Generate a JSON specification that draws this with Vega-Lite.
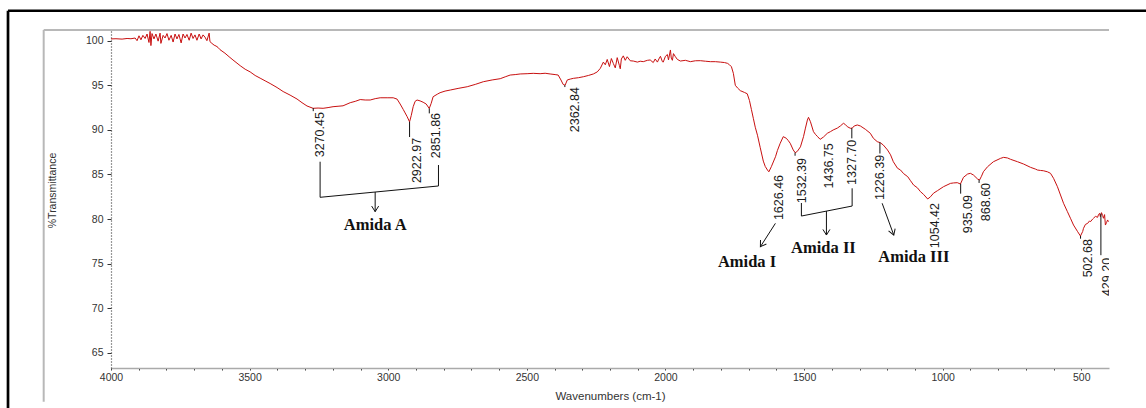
{
  "$schema": "https://vega.github.io/schema/vega-lite/v6.json",
  "width": 998,
  "height": 338,
  "autosize": "none",
  "padding": {"left": 111, "top": 30, "right": 37, "bottom": 40},
  "background": "white",
  "config": {"view": {"stroke": null}},
  "datasets": {
    "frameBlack": [
      {"wn": 4371.5, "wn2": 266.5, "t": 103.36, "t2": 103.36},
      {"wn": 4371.5, "wn2": 4371.5, "t": 103.36, "t2": 58.8}
    ],
    "frameGray": [
      {"wn": 4242.8, "wn2": 400, "t": 101.2, "t2": 101.2},
      {"wn": 4242.8, "wn2": 4242.8, "t": 101.2, "t2": 59.52}
    ],
    "spectrum": [
      {"wn": 4000, "t": 100.2}, {"wn": 3982, "t": 100.22}, {"wn": 3960, "t": 100.18}, {"wn": 3942, "t": 100.25},
      {"wn": 3928, "t": 100.22}, {"wn": 3913, "t": 100.3}, {"wn": 3906, "t": 100.0}, {"wn": 3899, "t": 100.55},
      {"wn": 3892, "t": 100.1}, {"wn": 3885, "t": 100.6}, {"wn": 3877, "t": 100.25}, {"wn": 3870, "t": 100.75},
      {"wn": 3863, "t": 99.8}, {"wn": 3859, "t": 101.05}, {"wn": 3856, "t": 99.45}, {"wn": 3852, "t": 100.8},
      {"wn": 3845, "t": 100.2}, {"wn": 3838, "t": 100.75}, {"wn": 3830, "t": 99.95}, {"wn": 3823, "t": 100.85},
      {"wn": 3820, "t": 99.7}, {"wn": 3812, "t": 100.6}, {"wn": 3805, "t": 100.3}, {"wn": 3798, "t": 100.8},
      {"wn": 3791, "t": 100.05}, {"wn": 3783, "t": 100.6}, {"wn": 3776, "t": 99.85}, {"wn": 3769, "t": 100.75},
      {"wn": 3762, "t": 100.2}, {"wn": 3755, "t": 100.7}, {"wn": 3747, "t": 99.75}, {"wn": 3740, "t": 100.75},
      {"wn": 3733, "t": 100.3}, {"wn": 3726, "t": 100.7}, {"wn": 3718, "t": 100.05}, {"wn": 3711, "t": 100.85},
      {"wn": 3704, "t": 100.25}, {"wn": 3697, "t": 100.65}, {"wn": 3690, "t": 100.05}, {"wn": 3682, "t": 100.75},
      {"wn": 3675, "t": 100.2}, {"wn": 3668, "t": 100.65}, {"wn": 3661, "t": 100.4}, {"wn": 3654, "t": 100.0},
      {"wn": 3646, "t": 100.85}, {"wn": 3643, "t": 99.9}, {"wn": 3636, "t": 99.7}, {"wn": 3628, "t": 99.5},
      {"wn": 3621, "t": 99.4}, {"wn": 3614, "t": 99.25}, {"wn": 3607, "t": 99.0}, {"wn": 3589, "t": 98.6},
      {"wn": 3574, "t": 98.2}, {"wn": 3560, "t": 97.84}, {"wn": 3534, "t": 97.2}, {"wn": 3516, "t": 96.8},
      {"wn": 3498, "t": 96.5}, {"wn": 3480, "t": 96.1}, {"wn": 3462, "t": 95.8}, {"wn": 3444, "t": 95.5},
      {"wn": 3426, "t": 95.2}, {"wn": 3401, "t": 94.75}, {"wn": 3379, "t": 94.3}, {"wn": 3354, "t": 93.9},
      {"wn": 3329, "t": 93.46}, {"wn": 3311, "t": 93.05}, {"wn": 3293, "t": 92.68}, {"wn": 3271, "t": 92.42},
      {"wn": 3253, "t": 92.45}, {"wn": 3235, "t": 92.42}, {"wn": 3217, "t": 92.5}, {"wn": 3199, "t": 92.6},
      {"wn": 3181, "t": 92.65}, {"wn": 3163, "t": 92.7}, {"wn": 3137, "t": 93.05}, {"wn": 3119, "t": 93.2},
      {"wn": 3101, "t": 93.4}, {"wn": 3083, "t": 93.35}, {"wn": 3065, "t": 93.35}, {"wn": 3047, "t": 93.5},
      {"wn": 3029, "t": 93.6}, {"wn": 3004, "t": 93.6}, {"wn": 2982, "t": 93.6}, {"wn": 2968, "t": 93.45},
      {"wn": 2957, "t": 92.9}, {"wn": 2946, "t": 92.3}, {"wn": 2939, "t": 91.9}, {"wn": 2932, "t": 91.5},
      {"wn": 2923, "t": 90.9}, {"wn": 2917, "t": 91.6}, {"wn": 2910, "t": 92.6}, {"wn": 2903, "t": 93.2},
      {"wn": 2896, "t": 93.35}, {"wn": 2885, "t": 93.25}, {"wn": 2874, "t": 93.1}, {"wn": 2863, "t": 92.9},
      {"wn": 2852, "t": 92.4}, {"wn": 2845, "t": 92.98}, {"wn": 2838, "t": 93.72}, {"wn": 2823, "t": 94.0},
      {"wn": 2813, "t": 94.17}, {"wn": 2795, "t": 94.35}, {"wn": 2776, "t": 94.47}, {"wn": 2748, "t": 94.65},
      {"wn": 2715, "t": 94.84}, {"wn": 2686, "t": 95.1}, {"wn": 2657, "t": 95.4}, {"wn": 2625, "t": 95.6},
      {"wn": 2596, "t": 95.74}, {"wn": 2578, "t": 95.95}, {"wn": 2560, "t": 96.15}, {"wn": 2542, "t": 96.2},
      {"wn": 2524, "t": 96.27}, {"wn": 2499, "t": 96.3}, {"wn": 2477, "t": 96.34}, {"wn": 2452, "t": 96.3},
      {"wn": 2434, "t": 96.35}, {"wn": 2416, "t": 96.27}, {"wn": 2398, "t": 96.2}, {"wn": 2387, "t": 96.15},
      {"wn": 2377, "t": 95.6}, {"wn": 2369, "t": 95.1}, {"wn": 2362, "t": 95.0}, {"wn": 2354, "t": 95.6},
      {"wn": 2343, "t": 95.7}, {"wn": 2332, "t": 95.78}, {"wn": 2314, "t": 95.85}, {"wn": 2296, "t": 95.96},
      {"wn": 2278, "t": 96.1}, {"wn": 2260, "t": 96.27}, {"wn": 2246, "t": 96.5}, {"wn": 2235, "t": 96.9},
      {"wn": 2224, "t": 97.6}, {"wn": 2217, "t": 97.3}, {"wn": 2210, "t": 97.9}, {"wn": 2202, "t": 97.1},
      {"wn": 2195, "t": 98.0}, {"wn": 2188, "t": 97.45}, {"wn": 2181, "t": 96.95}, {"wn": 2174, "t": 98.1},
      {"wn": 2166, "t": 97.2}, {"wn": 2163, "t": 96.85}, {"wn": 2159, "t": 97.95}, {"wn": 2152, "t": 98.3},
      {"wn": 2145, "t": 97.8}, {"wn": 2138, "t": 98.2}, {"wn": 2127, "t": 97.75}, {"wn": 2116, "t": 97.72},
      {"wn": 2101, "t": 97.6}, {"wn": 2091, "t": 97.7}, {"wn": 2080, "t": 97.65}, {"wn": 2065, "t": 97.8},
      {"wn": 2055, "t": 97.84}, {"wn": 2044, "t": 97.55}, {"wn": 2037, "t": 97.95}, {"wn": 2029, "t": 97.6},
      {"wn": 2022, "t": 98.05}, {"wn": 2018, "t": 98.25}, {"wn": 2011, "t": 97.65}, {"wn": 2008, "t": 97.6},
      {"wn": 2000, "t": 98.25}, {"wn": 1993, "t": 98.45}, {"wn": 1989, "t": 97.85}, {"wn": 1982, "t": 98.96},
      {"wn": 1979, "t": 98.05}, {"wn": 1975, "t": 97.8}, {"wn": 1971, "t": 98.55}, {"wn": 1964, "t": 98.2},
      {"wn": 1957, "t": 97.9}, {"wn": 1946, "t": 97.72}, {"wn": 1928, "t": 97.8}, {"wn": 1910, "t": 97.65},
      {"wn": 1892, "t": 97.75}, {"wn": 1874, "t": 97.76}, {"wn": 1856, "t": 97.7}, {"wn": 1838, "t": 97.65},
      {"wn": 1820, "t": 97.65}, {"wn": 1802, "t": 97.6}, {"wn": 1787, "t": 97.55}, {"wn": 1776, "t": 97.46},
      {"wn": 1769, "t": 97.3}, {"wn": 1762, "t": 97.08}, {"wn": 1755, "t": 96.34}, {"wn": 1748, "t": 95.0},
      {"wn": 1740, "t": 94.7}, {"wn": 1730, "t": 94.4}, {"wn": 1715, "t": 94.2}, {"wn": 1705, "t": 94.05},
      {"wn": 1697, "t": 93.3}, {"wn": 1690, "t": 92.3}, {"wn": 1683, "t": 91.3}, {"wn": 1676, "t": 90.3},
      {"wn": 1668, "t": 89.4}, {"wn": 1658, "t": 88.0}, {"wn": 1647, "t": 86.5}, {"wn": 1640, "t": 85.9},
      {"wn": 1632, "t": 85.5}, {"wn": 1627, "t": 85.3}, {"wn": 1618, "t": 85.87}, {"wn": 1611, "t": 86.4},
      {"wn": 1603, "t": 86.99}, {"wn": 1596, "t": 87.7}, {"wn": 1586, "t": 88.5}, {"wn": 1575, "t": 89.24},
      {"wn": 1564, "t": 89.06}, {"wn": 1557, "t": 88.8}, {"wn": 1550, "t": 88.5}, {"wn": 1539, "t": 87.75},
      {"wn": 1532, "t": 87.44}, {"wn": 1524, "t": 87.6}, {"wn": 1513, "t": 88.1}, {"wn": 1502, "t": 89.24},
      {"wn": 1495, "t": 90.2}, {"wn": 1488, "t": 91.1}, {"wn": 1484, "t": 91.41}, {"wn": 1477, "t": 90.92},
      {"wn": 1466, "t": 89.8}, {"wn": 1459, "t": 89.5}, {"wn": 1451, "t": 89.24}, {"wn": 1442, "t": 88.94},
      {"wn": 1430, "t": 89.2}, {"wn": 1416, "t": 89.62}, {"wn": 1405, "t": 89.8}, {"wn": 1395, "t": 89.99},
      {"wn": 1380, "t": 90.2}, {"wn": 1369, "t": 90.44}, {"wn": 1358, "t": 90.74}, {"wn": 1351, "t": 90.6},
      {"wn": 1344, "t": 90.36}, {"wn": 1333, "t": 90.18}, {"wn": 1326, "t": 90.2}, {"wn": 1319, "t": 90.44},
      {"wn": 1308, "t": 90.55}, {"wn": 1297, "t": 90.44}, {"wn": 1279, "t": 90.07}, {"wn": 1261, "t": 89.62},
      {"wn": 1250, "t": 89.06}, {"wn": 1236, "t": 88.68}, {"wn": 1225, "t": 88.56}, {"wn": 1214, "t": 88.3},
      {"wn": 1199, "t": 87.75}, {"wn": 1188, "t": 87.2}, {"wn": 1178, "t": 86.43}, {"wn": 1163, "t": 85.7},
      {"wn": 1152, "t": 85.5}, {"wn": 1141, "t": 85.1}, {"wn": 1126, "t": 84.75}, {"wn": 1116, "t": 84.3},
      {"wn": 1105, "t": 83.82}, {"wn": 1091, "t": 83.5}, {"wn": 1080, "t": 83.07}, {"wn": 1069, "t": 82.77},
      {"wn": 1054, "t": 82.25}, {"wn": 1044, "t": 82.5}, {"wn": 1033, "t": 82.9}, {"wn": 1019, "t": 83.18},
      {"wn": 997, "t": 83.63}, {"wn": 972, "t": 84.0}, {"wn": 961, "t": 84.05}, {"wn": 947, "t": 84.08},
      {"wn": 936, "t": 83.93}, {"wn": 925, "t": 84.68}, {"wn": 910, "t": 85.05}, {"wn": 900, "t": 85.13},
      {"wn": 889, "t": 84.94}, {"wn": 874, "t": 84.49}, {"wn": 867, "t": 84.38}, {"wn": 860, "t": 84.8},
      {"wn": 853, "t": 85.31}, {"wn": 838, "t": 85.87}, {"wn": 817, "t": 86.43}, {"wn": 791, "t": 86.81},
      {"wn": 780, "t": 86.92}, {"wn": 766, "t": 86.85}, {"wn": 755, "t": 86.7}, {"wn": 730, "t": 86.43},
      {"wn": 708, "t": 86.17}, {"wn": 683, "t": 85.8}, {"wn": 665, "t": 85.6}, {"wn": 658, "t": 85.5},
      {"wn": 647, "t": 85.45}, {"wn": 637, "t": 85.42}, {"wn": 622, "t": 85.3}, {"wn": 611, "t": 85.13},
      {"wn": 600, "t": 84.57}, {"wn": 586, "t": 83.63}, {"wn": 575, "t": 82.7}, {"wn": 564, "t": 81.77},
      {"wn": 550, "t": 80.83}, {"wn": 539, "t": 80.09}, {"wn": 528, "t": 79.33}, {"wn": 513, "t": 78.58},
      {"wn": 503, "t": 78.1}, {"wn": 495, "t": 78.6}, {"wn": 492, "t": 78.96}, {"wn": 485, "t": 79.4},
      {"wn": 477, "t": 79.52}, {"wn": 470, "t": 79.8}, {"wn": 467, "t": 79.7}, {"wn": 459, "t": 80.0},
      {"wn": 456, "t": 80.09}, {"wn": 449, "t": 80.3}, {"wn": 441, "t": 80.2}, {"wn": 438, "t": 80.5},
      {"wn": 434, "t": 80.64}, {"wn": 431, "t": 80.27}, {"wn": 427, "t": 80.72}, {"wn": 423, "t": 80.4},
      {"wn": 420, "t": 80.09}, {"wn": 416, "t": 80.5}, {"wn": 413, "t": 79.33}, {"wn": 409, "t": 79.6},
      {"wn": 405, "t": 79.9}, {"wn": 402, "t": 79.7}
    ],
    "ticks": [
      {"wn": 3270.45, "t": 92.45, "t2": 92.1},
      {"wn": 2922.97, "t": 90.9, "t2": 89.2},
      {"wn": 2851.86, "t": 92.4, "t2": 91.85},
      {"wn": 2362.84, "t": 95.0, "t2": 94.8},
      {"wn": 1532.39, "t": 87.45, "t2": 87.1},
      {"wn": 1327.70, "t": 90.2, "t2": 89.05},
      {"wn": 1226.39, "t": 88.6, "t2": 87.35},
      {"wn": 935.09, "t": 83.95, "t2": 82.85},
      {"wn": 868.60, "t": 84.4, "t2": 84.05},
      {"wn": 502.68, "t": 78.1, "t2": 77.8},
      {"wn": 429.20, "t": 80.6, "t2": 75.95}
    ],
    "segs": [
      {"wn": 3245.7, "t": 86.43, "wn2": 3245.7, "t2": 82.44},
      {"wn": 3245.7, "t": 82.44, "wn2": 2818.7, "t2": 83.71},
      {"wn": 2818.7, "t": 86.06, "wn2": 2818.7, "t2": 83.71},
      {"wn": 1509.6, "t": 81.8, "wn2": 1509.6, "t2": 80.34},
      {"wn": 1509.6, "t": 80.34, "wn2": 1326.6, "t2": 81.46},
      {"wn": 1326.6, "t": 83.45, "wn2": 1326.6, "t2": 81.46}
    ],
    "arrows": [
      {"name": "Amida A", "wn": 3047.1, "t": 83.03, "wn2": 3047.1, "t2": 80.83},
      {"name": "Amida I", "wn": 1603.4, "t": 79.52, "wn2": 1657.5, "t2": 76.9},
      {"name": "Amida II", "wn": 1419.3, "t": 80.9, "wn2": 1419.3, "t2": 78.21},
      {"name": "Amida III", "wn": 1218.3, "t": 81.77, "wn2": 1176.4, "t2": 78.21}
    ],
    "heads": [
      {"name": "Amida A", "wn": 3047.1, "t": 80.83},
      {"name": "Amida I", "wn": 1657.5, "t": 76.9},
      {"name": "Amida II", "wn": 1419.3, "t": 78.21},
      {"name": "Amida III", "wn": 1176.4, "t": 78.21}
    ],
    "peaks": [
      {"lab": "3270.45", "wn": 3270.45, "t": 92.0},
      {"lab": "2922.97", "wn": 2922.97, "t": 89.1},
      {"lab": "2851.86", "wn": 2851.86, "t": 91.9},
      {"lab": "2362.84", "wn": 2362.84, "t": 94.8},
      {"lab": "1626.46", "wn": 1626.46, "t": 84.95},
      {"lab": "1532.39", "wn": 1532.39, "t": 86.85},
      {"lab": "1436.75", "wn": 1436.75, "t": 88.5},
      {"lab": "1327.70", "wn": 1327.70, "t": 88.9},
      {"lab": "1226.39", "wn": 1226.39, "t": 87.2},
      {"lab": "1054.42", "wn": 1054.42, "t": 81.8},
      {"lab": "935.09", "wn": 935.09, "t": 82.7},
      {"lab": "868.60", "wn": 868.60, "t": 84.05},
      {"lab": "502.68", "wn": 502.68, "t": 77.75},
      {"lab": "429.20", "wn": 429.20, "t": 75.65}
    ],
    "amida": [
      {"name": "Amida A", "wn": 3047, "t": 79.33},
      {"name": "Amida I", "wn": 1705.6, "t": 75.22},
      {"name": "Amida II", "wn": 1430.2, "t": 76.72},
      {"name": "Amida III", "wn": 1104.2, "t": 75.78}
    ]
  },
  "encoding": {
    "x": {
      "field": "wn", "type": "quantitative",
      "scale": {"domain": [400, 4000], "reverse": true, "nice": false, "zero": false},
      "axis": {
        "values": [4000, 3900, 3800, 3700, 3600, 3500, 3400, 3300, 3200, 3100, 3000, 2900, 2800, 2700, 2600, 2500, 2400, 2300, 2200, 2100, 2000, 1900, 1800, 1700, 1600, 1500, 1400, 1300, 1200, 1100, 1000, 900, 800, 700, 600, 500],
        "labelExpr": "datum.value % 500 === 0 ? datum.value + '' : ''",
        "labelOverlap": false, "labelFlush": false, "grid": false,
        "tickSize": 2, "tickColor": "#333333", "domainColor": "#aaaaaa", "domainWidth": 1.5,
        "labelFont": "Liberation Sans", "labelFontSize": 10.5, "labelColor": "#333333", "labelPadding": 2,
        "title": "Wavenumbers (cm-1)", "titleFont": "Liberation Sans", "titleFontSize": 11.5,
        "titleFontWeight": "normal", "titleColor": "#333333", "titleY": 28, "titleBaseline": "middle"
      }
    },
    "y": {
      "field": "t", "type": "quantitative",
      "scale": {"domain": [63.3, 101.2], "nice": false, "zero": false},
      "axis": {
        "values": [65, 70, 75, 80, 85, 90, 95, 100],
        "grid": false, "labelFlush": false, "labelOverlap": false,
        "tickSize": 4, "tickColor": "#333333", "domainColor": "#333333", "domainDash": [1, 2], "domainWidth": 1.2,
        "labelFont": "Liberation Sans", "labelFontSize": 10.5, "labelColor": "#333333", "labelPadding": 4,
        "title": "%Transmittance", "titleFont": "Liberation Sans", "titleFontSize": 10.5,
        "titleFontWeight": "normal", "titleColor": "#333333", "titleX": -59, "titleY": 160,
        "titleBaseline": "middle", "titleAngle": 270
      }
    }
  },
  "layer": [
    {
      "data": {"name": "frameBlack"},
      "mark": {"type": "rule", "color": "#000000", "strokeWidth": 2.7},
      "encoding": {"x2": {"field": "wn2"}, "y2": {"field": "t2"}}
    },
    {
      "data": {"name": "frameGray"},
      "mark": {"type": "rule", "color": "#b8b8b8", "strokeWidth": 2},
      "encoding": {"x2": {"field": "wn2"}, "y2": {"field": "t2"}}
    },
    {
      "data": {"name": "spectrum"},
      "mark": {"type": "line", "color": "#c81010", "strokeWidth": 1, "interpolate": "linear"},
      "encoding": {}
    },
    {
      "data": {"name": "ticks"},
      "mark": {"type": "rule", "color": "#111111", "strokeWidth": 1},
      "encoding": {"y2": {"field": "t2"}}
    },
    {
      "data": {"name": "segs"},
      "mark": {"type": "rule", "color": "#111111", "strokeWidth": 1},
      "encoding": {"x2": {"field": "wn2"}, "y2": {"field": "t2"}}
    },
    {
      "data": {"name": "arrows"},
      "mark": {"type": "rule", "color": "#111111", "strokeWidth": 1},
      "encoding": {"x2": {"field": "wn2"}, "y2": {"field": "t2"}}
    },
    {
      "data": {"name": "heads"},
      "transform": [{"filter": {"field": "name", "oneOf": ["Amida A", "Amida II"]}}],
      "mark": {"type": "point", "shape": "M-1,-1.6L0,0L1,-1.6", "filled": false, "stroke": "#111111", "strokeWidth": 1, "size": 49, "opacity": 1, "angle": 0},
      "encoding": {}
    },
    {
      "data": {"name": "heads"},
      "transform": [{"filter": {"field": "name", "oneOf": ["Amida I"]}}],
      "mark": {"type": "point", "shape": "M-1,-1.6L0,0L1,-1.6", "filled": false, "stroke": "#111111", "strokeWidth": 1, "size": 49, "opacity": 1, "angle": 33},
      "encoding": {}
    },
    {
      "data": {"name": "heads"},
      "transform": [{"filter": {"field": "name", "oneOf": ["Amida III"]}}],
      "mark": {"type": "point", "shape": "M-1,-1.6L0,0L1,-1.6", "filled": false, "stroke": "#111111", "strokeWidth": 1, "size": 49, "opacity": 1, "angle": 340},
      "encoding": {}
    },
    {
      "data": {"name": "peaks"},
      "transform": [{"filter": {"field": "lab", "oneOf": ["3270.45", "2922.97", "2851.86", "1532.39", "1436.75", "1054.42", "935.09", "868.60", "502.68"]}}],
      "mark": {"type": "text", "angle": 270, "align": "right", "baseline": "middle", "dy": 7, "font": "Liberation Sans", "fontSize": 12.5, "fill": "#1a1a1a"},
      "encoding": {"text": {"field": "lab"}}
    },
    {
      "data": {"name": "peaks"},
      "transform": [{"filter": {"field": "lab", "oneOf": ["1327.70", "1226.39"]}}],
      "mark": {"type": "text", "angle": 270, "align": "right", "baseline": "middle", "dy": 0, "font": "Liberation Sans", "fontSize": 12.5, "fill": "#1a1a1a"},
      "encoding": {"text": {"field": "lab"}}
    },
    {
      "data": {"name": "peaks"},
      "transform": [{"filter": {"field": "lab", "oneOf": ["1626.46", "2362.84"]}}],
      "mark": {"type": "text", "angle": 270, "align": "right", "baseline": "middle", "dy": 10, "font": "Liberation Sans", "fontSize": 12.5, "fill": "#1a1a1a"},
      "encoding": {"text": {"field": "lab"}}
    },
    {
      "data": {"name": "peaks"},
      "transform": [{"filter": {"field": "lab", "oneOf": ["429.20"]}}],
      "mark": {"type": "text", "angle": 270, "align": "right", "baseline": "middle", "dy": 6, "clip": true, "font": "Liberation Sans", "fontSize": 12.5, "fill": "#1a1a1a"},
      "encoding": {"text": {"field": "lab"}}
    },
    {
      "data": {"name": "amida"},
      "mark": {"type": "text", "align": "center", "baseline": "middle", "font": "Liberation Serif", "fontWeight": "bold", "fontSize": 16.5, "fill": "#111111"},
      "encoding": {"text": {"field": "name"}}
    }
  ]
}
